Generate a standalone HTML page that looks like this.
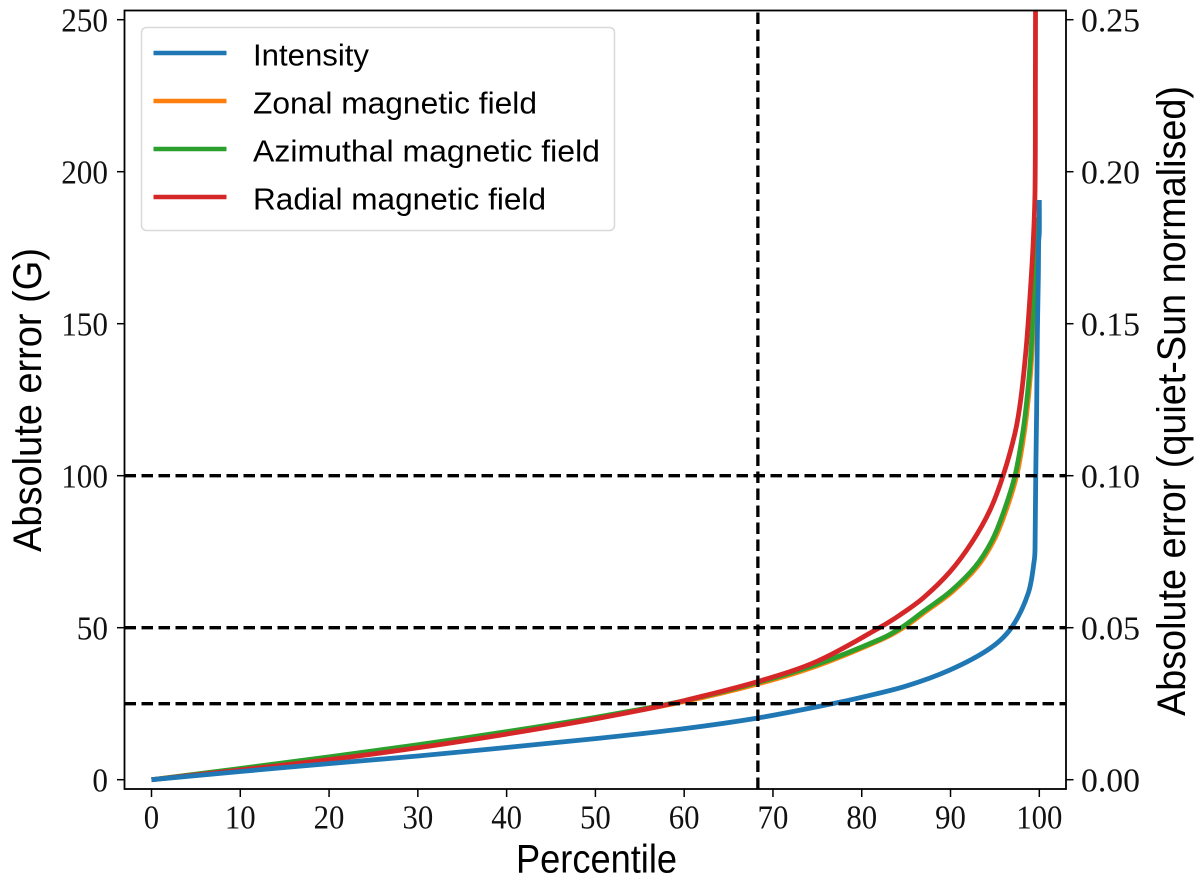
<!DOCTYPE html>
<html>
<head>
<meta charset="utf-8">
<style>
html,body{margin:0;padding:0;background:#fff;}
svg{display:block;}
.tick{font-family:"Liberation Serif",serif;font-size:34px;fill:#111;}
.lab{font-family:"Liberation Sans",sans-serif;fill:#000;}
</style>
</head>
<body>
<svg id="chart" xmlns="http://www.w3.org/2000/svg" width="1200" height="889" viewBox="0 0 1200 889">
<defs><clipPath id="plot-clip"><rect x="124.5" y="10.5" width="941.5" height="778.5"/></clipPath></defs>
<rect width="1200" height="889" fill="#fff"/>
<g id="series" clip-path="url(#plot-clip)"></g>
<g id="refs" clip-path="url(#plot-clip)"></g>
<rect x="124.5" y="10.5" width="941.5" height="778.5" fill="none" stroke="#000" stroke-width="1.8"/>
<g id="axes"></g>
<text class="lab" x="516" y="872.5" font-size="40" textLength="161" lengthAdjust="spacingAndGlyphs">Percentile</text>
<text class="lab" font-size="40" transform="translate(41,552) rotate(-90)" textLength="304" lengthAdjust="spacingAndGlyphs">Absolute error (G)</text>
<text class="lab" font-size="40" transform="translate(1185,716) rotate(-90)" textLength="630" lengthAdjust="spacingAndGlyphs">Absolute error (quiet-Sun normalised)</text>
<g>
<rect x="141.5" y="27.5" width="473" height="203" rx="5" fill="#fff" fill-opacity="0.85" stroke="#d9d9d9" stroke-width="1.5"/>
<line x1="153.5" x2="226.5" y1="53" y2="53" stroke="#1f77b4" stroke-width="4.4"/>
<line x1="153.5" x2="226.5" y1="101" y2="101" stroke="#ff7f0e" stroke-width="4.4"/>
<line x1="153.5" x2="226.5" y1="149" y2="149" stroke="#2ca02c" stroke-width="4.4"/>
<line x1="153.5" x2="226.5" y1="197" y2="197" stroke="#d62728" stroke-width="4.4"/>
<text class="lab" x="253" y="65.5" font-size="31" textLength="116" lengthAdjust="spacingAndGlyphs">Intensity</text>
<text class="lab" x="253" y="113.5" font-size="31" textLength="284" lengthAdjust="spacingAndGlyphs">Zonal magnetic field</text>
<text class="lab" x="253" y="161.5" font-size="31" textLength="347" lengthAdjust="spacingAndGlyphs">Azimuthal magnetic field</text>
<text class="lab" x="253" y="209.5" font-size="31" textLength="293" lengthAdjust="spacingAndGlyphs">Radial magnetic field</text>
</g>
</svg>
<script>
const xTicks = [0,10,20,30,40,50,60,70,80,90,100];
const yTicksLeft = [0,50,100,150,200,250];
const yTicksRight = ["0.00","0.05","0.10","0.15","0.20","0.25"];
const hLines = [25,50,100];
const vLines = [68.3];

const intensityX = [0,10,20,30,40,50,60,68.3,76.7,80,85,89.94,94.45,96.89,98.76,99.44,99.52,99.6,99.7,99.78,99.89,99.93,100,100];
const intensityY = [0,2.7,5.3,7.8,10.6,13.5,16.8,20.3,25,27.1,30.8,36.1,43.2,50.1,61.4,72.3,76.2,100,121.6,147,165,177,180,190.7];

const zonalX = [0,10,20,30,40,50,60,68.3,75,82.3,84.75,87.2,90.2,93,94.85,96.15,97.45,98.3,98.75,99.12,99.42,99.66,99.72];
const zonalY = [0,3.6,7.3,11.2,15.5,20.2,25.7,31.5,37.5,46.2,50.1,55.3,61.8,70,78.5,87.7,100,114,125,138,155,172,185];

const azimuthalX = [0,10,20,30,40,50,60,68.3,75,82.06,84.5,86.93,89.94,92.76,94.64,95.94,97.26,98.13,98.6,99,99.32,99.59,99.68];
const azimuthalY = [0,3.7,7.5,11.5,15.8,20.5,26,32,38,46.2,50.1,55.3,61.8,70,78.5,87.7,100,114,125,138,155,172,185];

const radialX = [0,10,20,30,40,50,57,60,68.3,75,82.06,84.31,86.93,89.94,92.39,94.45,95.94,97.26,97.9,98.5,98.95,99.32,99.52,99.56,99.58];
const radialY = [0,3.2,6.6,10.5,15,20,24,26,32.3,39,50.1,54.2,59.8,68.4,78,88.7,100.2,114,124.9,141.3,158.9,177,194,230,260];

const NS = "http://www.w3.org/2000/svg";
const xScale = v => 151.5 + v * 8.878;
const yScale = v => 779.7 - v * 3.04;
const seriesG = document.getElementById("series");
const refsG = document.getElementById("refs");
const axesG = document.getElementById("axes");

function make(tag, attrs, parent, text) {
  const el = document.createElementNS(NS, tag);
  for (const k in attrs) el.setAttribute(k, attrs[k]);
  if (text !== undefined) el.textContent = text;
  parent.appendChild(el);
  return el;
}
function smoothFrom(xs, ys) {
  const p = xs.map((x, i) => [xScale(x), yScale(ys[i])]);
  const tangent = i => {
    const a = p[Math.max(i - 1, 0)], c = p[Math.min(i + 1, p.length - 1)];
    const dx = c[0] - a[0], dy = c[1] - a[1], n = Math.hypot(dx, dy) || 1;
    return [dx / n, dy / n];
  };
  let d = "M" + p[0][0].toFixed(2) + " " + p[0][1].toFixed(2);
  for (let i = 0; i < p.length - 1; i++) {
    const b = p[i], c = p[i + 1];
    const len = Math.hypot(c[0] - b[0], c[1] - b[1]) / 3;
    const t0 = tangent(i), t1 = tangent(i + 1);
    d += " C" + (b[0] + t0[0] * len).toFixed(2) + " " + (b[1] + t0[1] * len).toFixed(2) + " " +
      (c[0] - t1[0] * len).toFixed(2) + " " + (c[1] - t1[1] * len).toFixed(2) + " " +
      c[0].toFixed(2) + " " + c[1].toFixed(2);
  }
  return d;
}

const zonalPath = make("path", {d: smoothFrom(zonalX, zonalY), fill: "none", stroke: "#ff7f0e", "stroke-width": 4.8}, seriesG);



const azimuthalPath = make("path", {d: smoothFrom(azimuthalX, azimuthalY), fill: "none", stroke: "#2ca02c", "stroke-width": 4.8}, seriesG);



const radialPath = make("path", {d: smoothFrom(radialX, radialY), fill: "none", stroke: "#d62728", "stroke-width": 4.8}, seriesG);



const intensityPath = make("path", {d: smoothFrom(intensityX, intensityY), fill: "none", stroke: "#1f77b4", "stroke-width": 4.8}, seriesG);



hLines.forEach(v => {
  const l = make("line", {x1: 124.5, x2: 1066, y1: yScale(v), y2: yScale(v), stroke: "#000", "stroke-width": 3.3, "stroke-dasharray": "11.5 5.5"}, refsG);
  
  
});
vLines.forEach(v => {
  const l = make("line", {x1: xScale(v), x2: xScale(v), y1: 789, y2: 10.5, stroke: "#000", "stroke-width": 3.3, "stroke-dasharray": "11.5 5.5"}, refsG);
  
  
});

xTicks.forEach(v => {
  const t = make("line", {x1: xScale(v), x2: xScale(v), y1: 789, y2: 797, stroke: "#000", "stroke-width": 1.5}, axesG);
  
  
  const label = String(v);
  const s = make("text", {x: xScale(v), y: 828.5, "text-anchor": "middle", class: "tick", textLength: label.length * 15.4, lengthAdjust: "spacingAndGlyphs"}, axesG, label);
  
  
});
yTicksLeft.forEach(v => {
  const t = make("line", {x1: 117, x2: 124.5, y1: yScale(v), y2: yScale(v), stroke: "#000", "stroke-width": 1.5}, axesG);
  
  
  const label = String(v);
  const s = make("text", {x: 108, y: yScale(v) + 12, "text-anchor": "end", class: "tick", textLength: label.length * 15.6, lengthAdjust: "spacingAndGlyphs"}, axesG, label);
  
  
});
yTicksRight.forEach((label, i) => {
  const v = yTicksLeft[i];
  const t = make("line", {x1: 1066, x2: 1073.5, y1: yScale(v), y2: yScale(v), stroke: "#000", "stroke-width": 1.5}, axesG);
  
  
  const s = make("text", {x: 1081, y: yScale(v) + 12, class: "tick", textLength: 59, lengthAdjust: "spacingAndGlyphs"}, axesG, label);
  
  
});
</script>
</body>
</html>
